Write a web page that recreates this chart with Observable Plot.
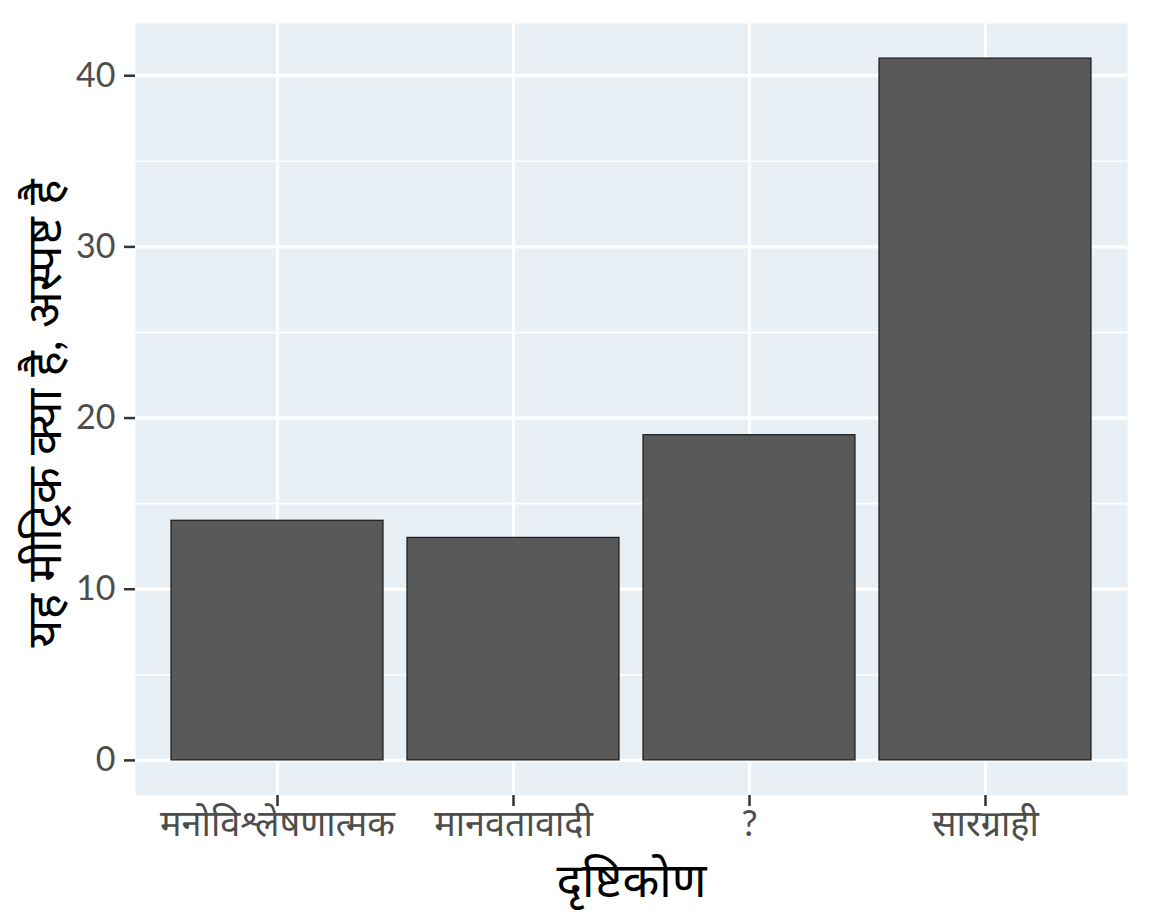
<!DOCTYPE html>
<html>
<head>
<meta charset="utf-8">
<script src="https://cdn.jsdelivr.net/npm/d3@7"></script>
<script src="https://cdn.jsdelivr.net/npm/@observablehq/plot@0.6"></script>
<style>
  html, body { margin: 0; padding: 0; background: #ffffff; }
  #chart svg { display: block; }
</style>
</head>
<body>
<div id="chart"></div>
<script>
const categories = ["मनोविश्लेषणात्मक", "मानवतावादी", "?", "सारग्राही"];
const counts = [14, 13, 19, 41];
const yMajorTicks = [0, 10, 20, 30, 40];
const yMinorTicks = [5, 15, 25, 35];
const xTitle = "दृष्टिकोण";
const yTitle = "यह मीट्रिक क्या है, अस्पष्ट है";

const data = categories.map((c, i) => ({category: c, count: counts[i]}));

const fontFam = "Lato, 'Noto Sans', 'Noto Sans Devanagari', sans-serif";

const chart = Plot.plot({
  width: 1152,
  height: 922,
  marginLeft: 135,
  marginRight: 25,
  marginTop: 23,
  marginBottom: 127,
  style: {fontFamily: fontFam, background: "white", overflow: "visible"},
  x: {domain: categories, paddingInner: 0.1, paddingOuter: 0.15, label: null},
  y: {domain: [-2.05, 43.05], label: null},
  marks: [
    Plot.frame({fill: "#E8F0F6", stroke: null}),
    Plot.gridY(yMinorTicks, {stroke: "white", strokeOpacity: 1, strokeWidth: 1.6}),
    Plot.gridY(yMajorTicks, {stroke: "white", strokeOpacity: 1, strokeWidth: 3.2}),
    Plot.gridX(categories, {stroke: "white", strokeOpacity: 1, strokeWidth: 3.2}),
    Plot.barY(data, {x: "category", y: "count", fill: "#595959", stroke: "#1a1a1a", strokeWidth: 1.2}),
    Plot.axisY(yMajorTicks, {
      tickSize: 11, tickPadding: 9, fontSize: 34, color: "#4D4D4D",
      stroke: "#333", strokeWidth: 2.5, label: null
    }),
    Plot.axisX({
      tickSize: 11, tickPadding: 4, fontSize: 36, color: "#4D4D4D",
      stroke: "#333", strokeWidth: 2.5, label: null
    }),
    Plot.text([xTitle], {
      frameAnchor: "bottom", dy: 86, text: d => d, fontSize: 48, fill: "black", lineAnchor: "middle"
    }),
    Plot.text([yTitle], {
      frameAnchor: "left", dx: -90, dy: 4, rotate: -90, text: d => d, fontSize: 48, fill: "black",
      textAnchor: "middle", lineAnchor: "middle"
    })
  ]
});
document.getElementById("chart").append(chart);
</script>
</body>
</html>
